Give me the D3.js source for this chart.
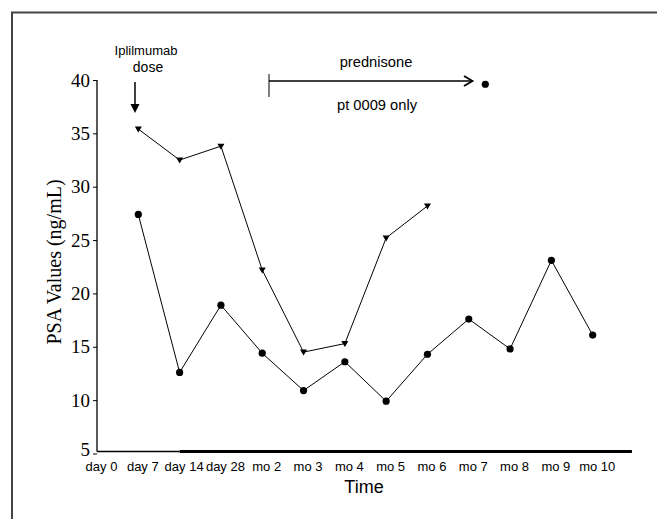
<!DOCTYPE html>
<html>
<head>
<meta charset="utf-8">
<script src="https://cdn.jsdelivr.net/npm/d3@7"></script>
<style>
  body { margin: 0; background: #fff; }
  .serif { font-family: "Liberation Serif", "Times New Roman", serif; }
  .sans { font-family: "Liberation Sans", Arial, sans-serif; }
</style>
</head>
<body>
<div id="chart"></div>
<script>
var svgWidth = 657;
var svgHeight = 519;

// time points along the x axis
var categories = ["day 0", "day 7", "day 14", "day 28", "mo 2", "mo 3", "mo 4",
                  "mo 5", "mo 6", "mo 7", "mo 8", "mo 9", "mo 10"];
var yTicks = [5, 10, 15, 20, 25, 30, 35, 40];

// patient with triangle markers (day 7 .. mo 6)
var triangleSeries = [35.4, 32.5, 33.8, 22.2, 14.5, 15.3, 25.2, 28.2];
// patient with circle markers (day 7 .. mo 10)
var circleSeries = [27.4, 12.6, 18.9, 14.4, 10.9, 13.6, 9.9, 14.3, 17.6, 14.8, 23.1, 16.1];
// lone marker next to the prednisone note
var pt0009Marker = [{ idx: 9.4, value: 39.6 }];

var svg = d3.select("#chart")
  .append("svg")
  .attr("width", svgWidth)
  .attr("height", svgHeight);

// frame (top and left edges only)
svg.append("path")
  .attr("d", "M12,519 L12,12.5 L657,12.5")
  .attr("fill", "none")
  .attr("stroke", "#444")
  .attr("stroke-width", 2);

// Scales
var xScale = d3.scaleLinear()
  .domain([0, 13])
  .range([97, 634]);

var yScale = d3.scaleLinear()
  .domain([5, 40])
  .range([453.5, 80]);

var axisY = 451.5;

// Y axis
var leftAxis = d3.axisLeft(yScale)
  .tickValues(yTicks)
  .tickSize(4)
  .tickPadding(3);

var yAxisG = svg.append("g")
  .attr("transform", "translate(97,0)")
  .call(leftAxis);
yAxisG.select(".domain").remove();
yAxisG.selectAll(".tick line").attr("stroke", "#000").attr("stroke-width", 1);
yAxisG.selectAll(".tick text")
  .attr("class", "serif")
  .attr("font-size", 19)
  .attr("fill", "#000");
// the lowest label sits a touch higher, clear of "day 0"
yAxisG.selectAll(".tick text")
  .filter(function(d) { return d === 5; })
  .attr("dy", "0.1em");

svg.append("line")
  .attr("x1", 97).attr("x2", 97)
  .attr("y1", yScale(40)).attr("y2", axisY)
  .attr("stroke", "#000").attr("stroke-width", 1.3);

// X axis
var bottomAxis = d3.axisBottom(xScale)
  .tickValues(d3.range(categories.length))
  .tickFormat(function(i) { return categories[i]; })
  .tickSize(0)
  .tickPadding(10);

var xAxisG = svg.append("g")
  .attr("transform", `translate(0, ${axisY})`)
  .call(bottomAxis);
xAxisG.select(".domain").remove();
xAxisG.selectAll(".tick text")
  .attr("class", "sans")
  .attr("font-size", 13)
  .attr("dx", 4)
  .attr("fill", "#000");

svg.append("line")
  .attr("x1", 97).attr("x2", xScale(2))
  .attr("y1", axisY).attr("y2", axisY)
  .attr("stroke", "#000").attr("stroke-width", 1.3);
svg.append("line")
  .attr("x1", xScale(2)).attr("x2", xScale(12.95))
  .attr("y1", axisY).attr("y2", axisY)
  .attr("stroke", "#000").attr("stroke-width", 3);

// axis titles
svg.append("text")
  .attr("class", "sans")
  .attr("x", 364)
  .attr("y", 493)
  .attr("text-anchor", "middle")
  .attr("font-size", 18)
  .text("Time");

svg.append("text")
  .attr("class", "serif")
  .attr("transform", "translate(61, 262) rotate(-90)")
  .attr("text-anchor", "middle")
  .attr("font-size", 20)
  .text("PSA Values (ng/mL)");

// series lines
var line = d3.line()
  .x(function(d) { return xScale(d.idx); })
  .y(function(d) { return yScale(d.value); });

var triData = triangleSeries.map(function(v, i) { return { idx: i + 1, value: v }; });
var circData = circleSeries.map(function(v, i) { return { idx: i + 1, value: v }; });

svg.append("path")
  .datum(triData)
  .attr("d", line)
  .attr("fill", "none")
  .attr("stroke", "#000")
  .attr("stroke-width", 1);

svg.append("path")
  .datum(circData)
  .attr("d", line)
  .attr("fill", "none")
  .attr("stroke", "#000")
  .attr("stroke-width", 1);

// markers
svg.selectAll(".tri")
  .data(triData)
  .enter().append("path")
  .attr("class", "tri")
  .attr("d", "M-3.5,-2.5 L3.5,-2.5 L0,3.5 Z")
  .attr("transform", function(d) { return `translate(${xScale(d.idx)}, ${yScale(d.value)})`; })
  .attr("fill", "#000");

svg.selectAll(".dot")
  .data(circData.concat(pt0009Marker))
  .enter().append("circle")
  .attr("class", "dot")
  .attr("cx", function(d) { return xScale(d.idx); })
  .attr("cy", function(d) { return yScale(d.value); })
  .attr("r", 3.6)
  .attr("fill", "#000");

// Ipilimumab dose annotation
svg.append("text")
  .attr("class", "sans")
  .attr("x", 146).attr("y", 55)
  .attr("text-anchor", "middle")
  .attr("font-size", 13)
  .text("Iplilmumab");
svg.append("text")
  .attr("class", "sans")
  .attr("x", 148).attr("y", 72)
  .attr("text-anchor", "middle")
  .attr("font-size", 14)
  .text("dose");
svg.append("line")
  .attr("x1", 135).attr("x2", 135)
  .attr("y1", 82).attr("y2", 106)
  .attr("stroke", "#000").attr("stroke-width", 1.5);
svg.append("path")
  .attr("d", "M130.5,104 L139.5,104 L135,113 Z")
  .attr("fill", "#000");

// prednisone annotation
svg.append("line")
  .attr("x1", 269).attr("x2", 269)
  .attr("y1", 74).attr("y2", 97)
  .attr("stroke", "#555").attr("stroke-width", 1.5);
svg.append("line")
  .attr("x1", 269).attr("x2", 472)
  .attr("y1", 81).attr("y2", 81)
  .attr("stroke", "#000").attr("stroke-width", 1.6);
svg.append("path")
  .attr("d", "M464,76 L472.5,81 L464,86")
  .attr("fill", "none")
  .attr("stroke", "#000").attr("stroke-width", 1.8);
svg.append("text")
  .attr("class", "sans")
  .attr("x", 376).attr("y", 67)
  .attr("text-anchor", "middle")
  .attr("font-size", 14.7)
  .text("prednisone");
svg.append("text")
  .attr("class", "sans")
  .attr("x", 377).attr("y", 110)
  .attr("text-anchor", "middle")
  .attr("font-size", 14.7)
  .text("pt 0009 only");
</script>
</body>
</html>
